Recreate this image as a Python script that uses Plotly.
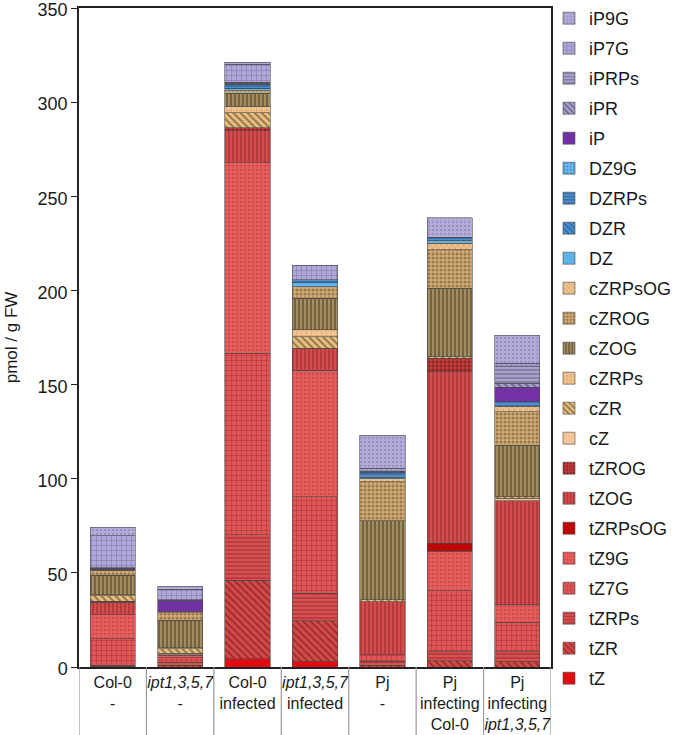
import plotly.graph_objects as go

categories = ["Col-0<br>-", "<i>ipt1,3,5,7</i><br>-", "Col-0<br>infected",
              "<i>ipt1,3,5,7</i><br>infected", "Pj<br>-", "Pj<br>infecting<br>Col-0",
              "Pj<br>infecting<br><i>ipt1,3,5,7</i>"]

# values (pmol / g FW), stacked bottom -> top
tZ      = [0,    0,   4.5,  3.0,  0,    0,    0]
tZR     = [0.3,  1.0, 41.7, 21.6, 1.0,  3.4,  2.8]
tZRPs   = [0.5,  1.5, 24.0, 14.5, 2.0,  4.7,  5.3]
tZ7G    = [14.2, 2.5, 96.5, 51.3, 3.4,  32.3, 15.6]
tZ9G    = [12.7, 1.0, 101.0, 67.3, 0,   21.2, 9.6]
tZRPsOG = [0,    0,   0,    0,    0,    4.1,  0]
tZOG    = [6.8,  0.5, 17.0, 11.5, 28.3, 91.1, 55.0]
tZROG   = [0.3,  0,   1.6,  0,    0,    7.1,  0]
cZ      = [0,    0.8, 0,    0,    0,    0,    1.3]
cZR     = [3.0,  2.5, 8.0,  6.2,  1.0,  0.9,  1.2]
cZRPs   = [0.5,  0.5, 3.5,  3.6,  0,    0,    0]
cZOG    = [10.5, 14.5, 7.0, 16.8, 42.0, 36.3, 27.1]
cZROG   = [2.5,  4.0, 1.2,  6.2,  20.7, 20.4, 17.7]
cZRPsOG = [0.3,  0.5, 0,    0,    1.5,  3.5,  3.0]
DZ      = [0,    0,   1.0,  2.0,  1.0,  1.7,  0]
DZR     = [0,    0,   0.5,  0,    0,    0,    0]
DZRPs   = [0,    0,   2.0,  1.7,  2.6,  1.5,  2.3]
DZ9G    = [0,    0,   0,    0,    0,    0,    0]
iP      = [0.5,  5.8, 0,    0,    0,    0,    7.6]
iPR     = [0.3,  0.3, 0.5,  0,    0.5,  0,    2.1]
iPRPs   = [0.3,  0.3, 0.5,  0,    0,    0,    8.9]
iP7G    = [17.0, 5.5, 9.5,  7.6,  1.5,  0,    1.8]
iP9G    = [4.5,  1.8, 1.1,  0,    17.5, 10.4, 15.0]

series = [
    ("tZ", tZ), ("tZR", tZR), ("tZRPs", tZRPs), ("tZ7G", tZ7G), ("tZ9G", tZ9G),
    ("tZRPsOG", tZRPsOG), ("tZOG", tZOG), ("tZROG", tZROG),
    ("cZ", cZ), ("cZR", cZR), ("cZRPs", cZRPs), ("cZOG", cZOG), ("cZROG", cZROG),
    ("cZRPsOG", cZRPsOG), ("DZ", DZ), ("DZR", DZR), ("DZRPs", DZRPs), ("DZ9G", DZ9G),
    ("iP", iP), ("iPR", iPR), ("iPRPs", iPRPs), ("iP7G", iP7G), ("iP9G", iP9G),
]

# name: (shape, bgcolor, fgcolor, size, solidity)
styles = {
    "tZ":      ("",   "#e30b12", "#e30b12", 6, 0.3),
    "tZR":     ("\\", "#d24a48", "#5e1010", 5, 0.35),
    "tZRPs":   ("-",  "#d95050", "#6a1515", 4, 0.3),
    "tZ7G":    ("+",  "#e05656", "#6a1515", 5, 0.2),
    "tZ9G":    (".",  "#e75d5d", "#b03535", 4, 0.3),
    "tZRPsOG": ("x",  "#c40808", "#7a0000", 4, 0.3),
    "tZOG":    ("|",  "#d44c4c", "#6a1515", 4, 0.3),
    "tZROG":   (".",  "#c23a3a", "#5a1010", 4, 0.4),
    "cZ":      ("",   "#f4c398", "#f4c398", 6, 0.3),
    "cZR":     ("\\", "#e8c080", "#3a2a10", 5, 0.4),
    "cZRPs":   ("+",  "#f2c490", "#b08050", 5, 0.2),
    "cZOG":    ("|",  "#76623f", "#f3dba5", 4, 0.35),
    "cZROG":   (".",  "#d2ac74", "#5e4428", 4, 0.45),
    "cZRPsOG": ("x",  "#f0c490", "#a07040", 4, 0.3),
    "DZ":      ("",   "#62b2ea", "#62b2ea", 6, 0.3),
    "DZR":     ("\\", "#4a8fd0", "#1a3a60", 5, 0.35),
    "DZRPs":   ("-",  "#4f8ecc", "#1a3a60", 4, 0.35),
    "DZ9G":    (".",  "#6ab6ec", "#2a6aa0", 4, 0.3),
    "iP":      ("",   "#7232a6", "#7232a6", 6, 0.3),
    "iPR":     ("\\", "#a9a1cb", "#303050", 5, 0.4),
    "iPRPs":   ("-",  "#aaa2cc", "#404060", 4, 0.35),
    "iP7G":    ("+",  "#b1a7d8", "#434370", 5, 0.2),
    "iP9G":    (".",  "#b5abda", "#8078a8", 4, 0.3),
}

fig = go.Figure()
for i, (name, vals) in enumerate(series):
    shape, bg, fg, size, sol = styles[name]
    y = [v if v > 0 else None for v in vals]
    fig.add_trace(go.Bar(
        x=categories, y=y, name=name, legendgroup=name, legendrank=1000 - i,
        marker=dict(color=bg, line=dict(color="#4a4a4a", width=0.6),
                    pattern=dict(shape=shape, bgcolor=bg, fgcolor=fg, size=size,
                                 solidity=sol, fillmode="overlay")),
    ))

n = len(categories)
bottom = -68 / 659
for i in range(n + 1):
    fig.add_shape(type="line", xref="x", yref="paper", x0=i - 0.5, x1=i - 0.5,
                  y0=0, y1=bottom, line=dict(color="#9a9a9a", width=1.2))

font_family = "Liberation Sans, Arial, sans-serif"
fig.update_layout(
    width=677, height=735,
    margin=dict(l=79, r=126, t=8, b=68, autoexpand=False),
    barmode="stack", bargap=0.33,
    plot_bgcolor="white", paper_bgcolor="white",
    font=dict(family=font_family, color="#1a1a1a", size=16),
    showlegend=True,
    legend=dict(traceorder="grouped", tracegroupgap=3.6,
                xref="container", yref="container", maxheight=734,
                x=549 / 677, xanchor="left", y=1.0, yanchor="top",
                font=dict(size=18, family=font_family, color="#1a1a1a"),
                bgcolor="rgba(0,0,0,0)"),
    xaxis=dict(type="category", range=[-0.5, n - 0.5], showgrid=False,
               showline=True, linecolor="#222", linewidth=1.5, mirror=True,
               ticks="", tickfont=dict(size=16), tickangle=0, automargin=False),
    yaxis=dict(range=[0, 350], dtick=50, showgrid=False, zeroline=False,
               showline=True, linecolor="#222", linewidth=1.5, mirror=True,
               ticks="outside", ticklen=6, tickcolor="#222",
               tickfont=dict(size=18), automargin=False,
               ticklabeloverflow="allow", ticklabelshift=2,
               title=dict(text="pmol / g FW", font=dict(size=17), standoff=16)),
)

fig.write_html("out.html", config={"displayModeBar": False},
               post_script="document.body.style.margin='0';document.body.style.padding='0';")
